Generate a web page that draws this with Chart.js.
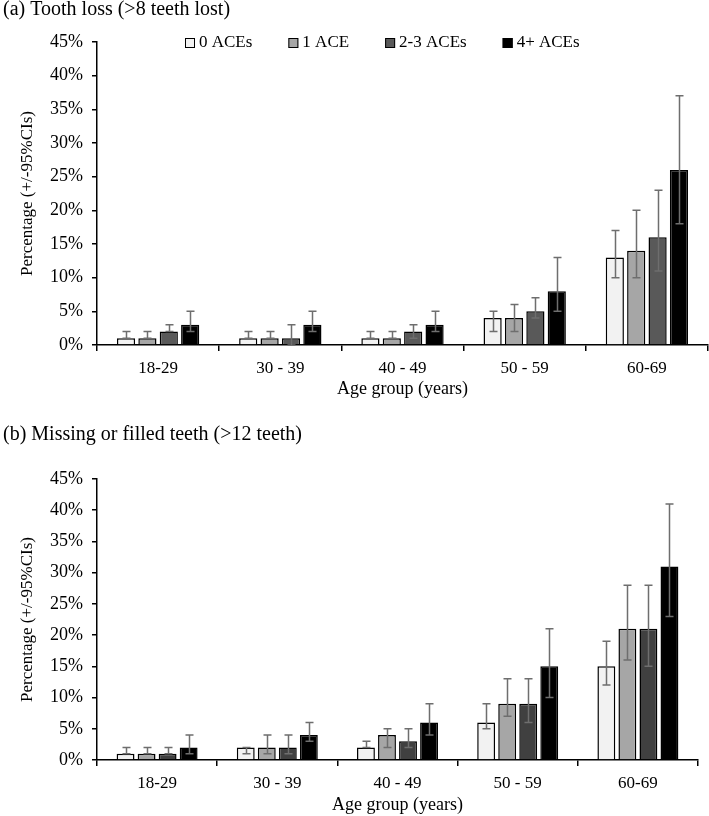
<!doctype html>
<html lang="en">
<head>
    <meta charset="UTF-8">
    <title>Tooth loss by ACEs</title>
    <script src="https://cdn.jsdelivr.net/npm/chart.js"></script>
    <style>
        body { margin: 0; background: #fff; }
        canvas { display: block; }
    </style>
</head>
<body>
    <canvas id="lossChart" width="709" height="400"></canvas>
    <canvas id="missingChart" width="709" height="416"></canvas>
    <script>
        const ageGroups = ['18-29', '30 - 39', '40 - 49', '50 - 59', '60-69'];
        const aceLabels = ['0 ACEs', '1 ACE', '2-3 ACEs', '4+ ACEs'];
        const yTicks = [0, 5, 10, 15, 20, 25, 30, 35, 40, 45];

        // (a) tooth loss, one row per ACE group
        const lossValues = [
            [1, 1, 1, 4, 13],
            [1, 1, 1, 4, 14],
            [2, 1, 2, 5, 16],
            [3, 3, 3, 8, 26]
        ];
        const lossLow = [
            [1, 1, 1, 2, 10],
            [1, 1, 1, 2, 10],
            [2, 0, 1, 4, 11],
            [2, 2, 2, 5, 18]
        ];
        const lossHigh = [
            [2, 2, 2, 5, 17],
            [2, 2, 2, 6, 20],
            [3, 3, 3, 7, 23],
            [5, 5, 5, 13, 37]
        ];

        // (b) missing or filled teeth
        const missingValues = [
            [1, 2, 2, 6, 15],
            [1, 2, 4, 9, 21],
            [1, 2, 3, 9, 21],
            [2, 4, 6, 15, 31]
        ];
        const missingLow = [
            [1, 1, 2, 5, 12],
            [1, 1, 2, 7, 16],
            [1, 1, 2, 6, 15],
            [1, 3, 4, 10, 23]
        ];
        const missingHigh = [
            [2, 2, 3, 9, 19],
            [2, 4, 5, 13, 28],
            [2, 4, 5, 13, 28],
            [4, 6, 9, 21, 41]
        ];

        const FONT = "'Liberation Serif', 'Times New Roman', serif";

        // draws the 95% CI whiskers on top of the bars
        const errorBars = {
            id: 'errorBars',
            afterDatasetsDraw(chart) {
                const ctx = chart.ctx;
                const y = chart.scales.y;
                ctx.save();
                ctx.strokeStyle = '#6e6e6e';
                ctx.lineWidth = 1.5;
                chart.data.datasets.forEach((ds, i) => {
                    const meta = chart.getDatasetMeta(i);
                    meta.data.forEach((bar, j) => {
                        const top = y.getPixelForValue(ds.ciHigh[j]);
                        const bot = y.getPixelForValue(ds.ciLow[j]);
                        const x = Math.round(bar.x) + 0.5;
                        ctx.beginPath();
                        ctx.moveTo(x, top);
                        ctx.lineTo(x, bot);
                        ctx.moveTo(x - 4, top);
                        ctx.lineTo(x + 4, top);
                        ctx.moveTo(x - 4, bot);
                        ctx.lineTo(x + 4, bot);
                        ctx.stroke();
                    });
                });
                ctx.restore();
            }
        };

        // horizontal legend sitting inside the top of the plot
        const innerLegend = {
            id: 'innerLegend',
            afterDraw(chart, args, opts) {
                if (!opts.show) return;
                const ctx = chart.ctx;
                const area = chart.chartArea;
                ctx.save();
                ctx.font = '17px ' + FONT;
                ctx.textBaseline = 'middle';
                let x = area.left + 88;
                const y = area.top + 1;
                chart.data.datasets.forEach(ds => {
                    ctx.fillStyle = ds.backgroundColor;
                    ctx.fillRect(x, y - 5, 10, 10);
                    ctx.strokeStyle = '#000';
                    ctx.lineWidth = 1;
                    ctx.strokeRect(x + 0.5, y - 4.5, 9, 9);
                    ctx.fillStyle = '#000';
                    ctx.fillText(ds.label, x + 14, y);
                    x += 14 + ctx.measureText(ds.label).width + 36;
                });
                ctx.restore();
            }
        };

        function makeChart(id, title, values, low, high, colors, opts) {
            const datasets = aceLabels.map((label, i) => ({
                label: label,
                data: values[i],
                ciLow: low[i],
                ciHigh: high[i],
                backgroundColor: colors[i],
                borderColor: '#000',
                borderWidth: 1.5,
                categoryPercentage: 0.7,
                barPercentage: 0.85
            }));

            return new Chart(document.getElementById(id), {
                type: 'bar',
                data: { labels: ageGroups, datasets: datasets },
                options: {
                    responsive: false,
                    animation: false,
                    layout: { padding: { left: 3, right: opts.right, top: 0, bottom: 0 } },
                    plugins: {
                        title: {
                            display: true,
                            text: title,
                            align: 'start',
                            color: '#000',
                            font: { family: FONT, size: 20, weight: 'normal', lineHeight: 1 },
                            padding: { top: opts.titleTop, bottom: opts.titleBottom }
                        },
                        legend: { display: false },
                        innerLegend: { show: opts.legend },
                        tooltip: { enabled: false }
                    },
                    scales: {
                        x: {
                            afterFit: s => { s.height = opts.xHeight; },
                            grid: {
                                display: true,
                                offset: true,
                                drawOnChartArea: false,
                                drawTicks: true,
                                tickLength: 6,
                                color: '#000',
                                lineWidth: 1.5
                            },
                            border: { color: '#000', width: 1.5 },
                            ticks: {
                                color: '#000',
                                padding: 7,
                                font: { family: FONT, size: 17 }
                            },
                            title: {
                                display: true,
                                text: 'Age group (years)',
                                color: '#000',
                                font: { family: FONT, size: 18 },
                                padding: { top: 1, bottom: 0 }
                            }
                        },
                        y: {
                            min: 0,
                            max: 45,
                            afterFit: s => { s.width = 94; },
                            afterBuildTicks: s => { s.ticks = yTicks.map(v => ({ value: v })); },
                            grid: {
                                display: true,
                                drawOnChartArea: false,
                                drawTicks: true,
                                tickLength: 5,
                                color: '#000',
                                lineWidth: 1.5
                            },
                            border: { color: '#000', width: 1.5 },
                            ticks: {
                                color: '#000',
                                padding: 9,
                                font: { family: FONT, size: 18 },
                                callback: v => v + '%'
                            },
                            title: {
                                display: true,
                                text: 'Percentage (+/-95%CIs)',
                                color: '#000',
                                font: { family: FONT, size: 17 },
                                padding: { top: 14, bottom: 0 }
                            }
                        }
                    }
                },
                plugins: [errorBars, innerLegend]
            });
        }

        makeChart('lossChart', '(a) Tooth loss (>8 teeth lost)', lossValues, lossLow, lossHigh,
            ['#f2f2f2', '#a6a6a6', '#595959', '#000000'],
            { right: 1, titleTop: 0, titleBottom: 22, xHeight: 55, legend: true });

        makeChart('missingChart', '(b) Missing or filled teeth (>12 teeth)', missingValues, missingLow, missingHigh,
            ['#f2f2f2', '#a6a6a6', '#404040', '#000000'],
            { right: 11, titleTop: 25, titleBottom: 34, xHeight: 56, legend: false });
    </script>
</body>
</html>
